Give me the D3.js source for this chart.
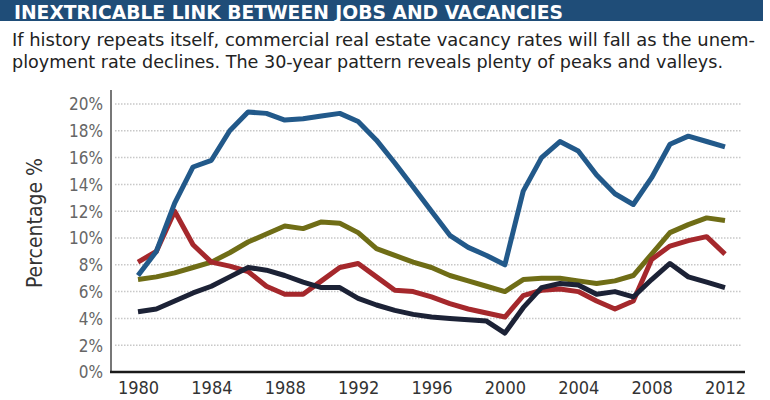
<!DOCTYPE html>
<html><head><meta charset="utf-8">
<script src="https://cdn.jsdelivr.net/npm/d3@7/dist/d3.min.js"></script>
<style>
html,body{margin:0;padding:0;background:#fff;}
svg{display:block;}
.cond{font-family:"Liberation Sans Narrow","DejaVu Sans Condensed","Liberation Sans",sans-serif;}
</style></head>
<body><svg id="c" width="770" height="400"></svg>
<script>
const years = d3.range(1980, 2013);
const blueSeries  = [7.2,9.0,12.6,15.3,15.8,18.0,19.4,19.3,18.8,18.9,19.1,19.3,18.7,17.3,15.6,13.8,12.0,10.2,9.3,8.7,8.0,13.5,16.0,17.2,16.5,14.7,13.3,12.5,14.5,17.0,17.6,17.2,16.8];
const oliveSeries = [6.9,7.1,7.4,7.8,8.2,8.9,9.7,10.3,10.9,10.7,11.2,11.1,10.4,9.2,8.7,8.2,7.8,7.2,6.8,6.4,6.0,6.9,7.0,7.0,6.8,6.6,6.8,7.2,8.8,10.4,11.0,11.5,11.3];
const redSeries   = [8.2,9.0,12.0,9.5,8.2,7.9,7.5,6.4,5.8,5.8,6.8,7.8,8.1,7.1,6.1,6.0,5.6,5.1,4.7,4.4,4.1,5.7,6.1,6.2,6.0,5.3,4.7,5.3,8.4,9.4,9.8,10.1,8.8];
const navySeries  = [4.5,4.7,5.3,5.9,6.4,7.1,7.8,7.6,7.2,6.7,6.3,6.3,5.5,5.0,4.6,4.3,4.1,4.0,3.9,3.8,2.9,4.8,6.3,6.6,6.5,5.8,6.0,5.6,6.9,8.1,7.1,6.7,6.3];
const yTicks = [0,2,4,6,8,10,12,14,16,18,20];
const xTicks = [1980,1984,1988,1992,1996,2000,2004,2008,2012];
const title = "INEXTRICABLE LINK BETWEEN JOBS AND VACANCIES";
const subtitle = ["If history repeats itself, commercial real estate vacancy rates will fall as the unem-",
                  "ployment rate declines. The 30-year pattern reveals plenty of peaks and valleys."];
const yLabel = "Percentage %";

const svg = d3.select("#c");
// title bar
svg.append("rect").attr("x",0).attr("y",0).attr("width",763).attr("height",21).attr("fill","#1f4d78");
svg.append("text").attr("class","cond").attr("x",14).attr("y",19).attr("font-size",20).attr("font-weight","bold")
  .attr("fill","#fff").attr("textLength",549).attr("lengthAdjust","spacingAndGlyphs").text(title);
svg.append("text").attr("class","cond").attr("x",12).attr("y",46).attr("font-size",18).attr("fill","#222")
  .attr("textLength",743).attr("lengthAdjust","spacingAndGlyphs").text(subtitle[0]);
svg.append("text").attr("class","cond").attr("x",12).attr("y",67.5).attr("font-size",18).attr("fill","#222")
  .attr("textLength",711).attr("lengthAdjust","spacingAndGlyphs").text(subtitle[1]);

const x = d3.scaleLinear().domain([1980,2012]).range([138,725]);
const y = d3.scaleLinear().domain([0,20]).range([372,104]);

// grid
svg.append("g").selectAll("line").data(yTicks.filter(d=>d>0)).join("line")
  .attr("x1",115).attr("x2",742).attr("y1",d=>y(d)).attr("y2",d=>y(d))
  .attr("stroke","#c8c8c8").attr("stroke-width",1.5).attr("stroke-dasharray","1.5,1.5");

// y axis
const yAxis = d3.axisLeft(y).tickValues(yTicks).tickFormat(d=>d+"%").tickSize(0).tickPadding(8);
const gy = svg.append("g").attr("transform","translate(111,0)").call(yAxis);
gy.select(".domain").remove();
gy.selectAll("text").attr("class","cond").attr("font-size",17).attr("fill","#666").attr("dy","0.35em");
svg.append("line").attr("x1",111).attr("x2",111).attr("y1",90).attr("y2",373).attr("stroke","#777").attr("stroke-width",2);

// x axis
const xAxis = d3.axisBottom(x).tickValues(xTicks).tickFormat(d3.format("d")).tickSize(0).tickPadding(6);
const gx = svg.append("g").attr("transform","translate(0,372)").call(xAxis);
gx.select(".domain").remove();
gx.selectAll("text").attr("class","cond").attr("font-size",18).attr("fill","#333").attr("dy","0.9em");
svg.append("line").attr("x1",110).attr("x2",745).attr("y1",372).attr("y2",372).attr("stroke","#1a1a1a").attr("stroke-width",2.5);

// y label
svg.append("text").attr("class","cond").attr("transform","translate(42,223) rotate(-90)")
  .attr("text-anchor","middle").attr("font-size",21).attr("fill","#333").text(yLabel);

const line = d3.line().x((d,i)=>x(years[i])).y(d=>y(d));
const series = [
  {v:oliveSeries, c:"#6f6d16"},
  {v:redSeries, c:"#a5282c"},
  {v:navySeries, c:"#1c2236"},
  {v:blueSeries, c:"#22598a"}
];
svg.append("g").selectAll("path").data(series).join("path")
  .attr("d",d=>line(d.v)).attr("fill","none").attr("stroke",d=>d.c)
  .attr("stroke-width",5).attr("stroke-linejoin","round").attr("stroke-linecap","butt");
</script></body></html>
